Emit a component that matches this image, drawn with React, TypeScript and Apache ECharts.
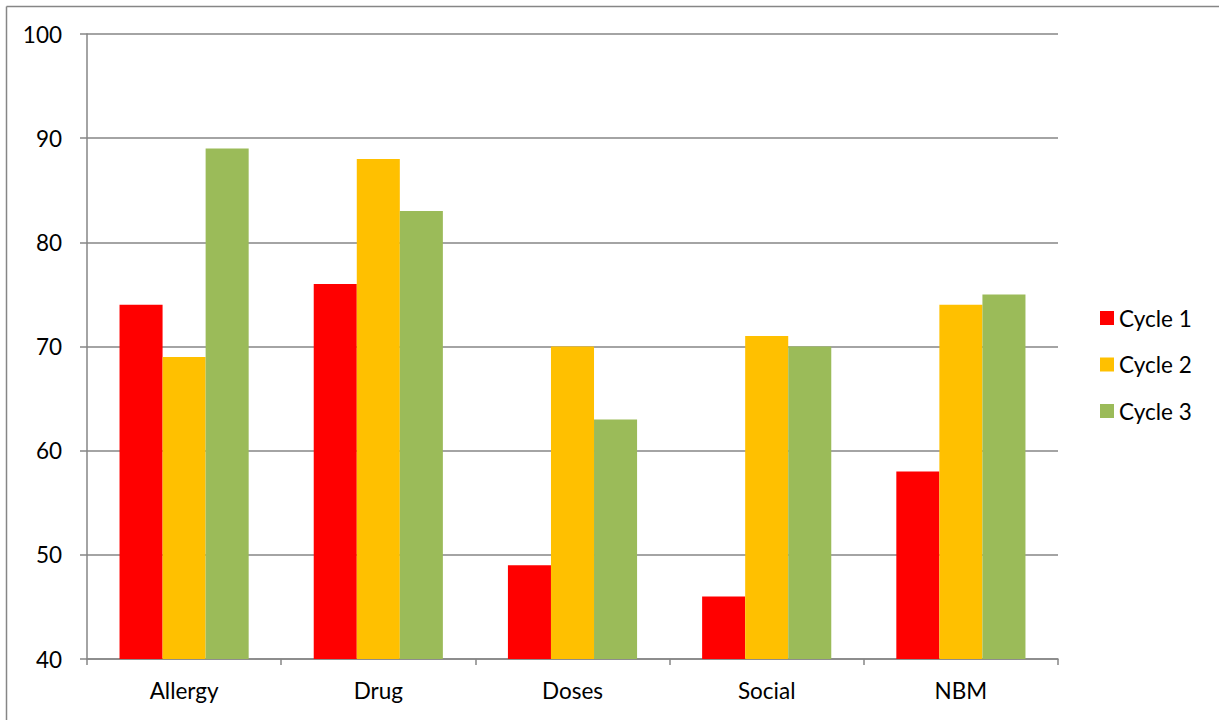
import React, { useEffect, useRef } from "react";
import * as echarts from "echarts";

const categories = ["Allergy", "Drug", "Doses", "Social", "NBM"];
const cycle1 = [74, 76, 49, 46, 58];
const cycle2 = [69, 88, 70, 71, 74];
const cycle3 = [89, 83, 63, 70, 75];
const seriesNames = ["Cycle 1", "Cycle 2", "Cycle 3"];
const seriesColors = ["#FF0000", "#FFC000", "#9BBB59"];

export default function App() {
  const ref = useRef<HTMLDivElement>(null);
  useEffect(() => {
    document.body.style.margin = "0";
    const chart = echarts.init(ref.current!, null, { renderer: "svg" });
    const font = "Lato, 'Open Sans', sans-serif";
    const data = [cycle1, cycle2, cycle3];
    chart.setOption({
      animation: false,
      textStyle: { fontFamily: font },
      grid: { left: 87, right: 161, top: 34, bottom: 61, containLabel: false },
      legend: {
        orient: "vertical",
        left: 1100,
        top: 306,
        itemWidth: 14,
        itemHeight: 14,
        itemGap: 22.5,
        icon: "rect",
        padding: 0,
        textStyle: { fontFamily: font, fontSize: 22.5, color: "#000", lineHeight: 24 },
        data: seriesNames,
      },
      xAxis: {
        type: "category",
        data: categories,
        axisLine: { lineStyle: { color: "#868686", width: 1.5 } },
        axisTick: { show: true, length: 6, inside: false, lineStyle: { color: "#868686", width: 1.5 } },
        axisLabel: { fontFamily: font, fontSize: 22.5, color: "#000", margin: 20 },
      },
      yAxis: {
        type: "value",
        min: 40,
        max: 100,
        interval: 10,
        axisLine: { show: true, lineStyle: { color: "#868686", width: 1.5 } },
        axisTick: { show: true, length: 7, lineStyle: { color: "#868686", width: 1.5 } },
        splitLine: { show: true, lineStyle: { color: "#868686", width: 1.5 } },
        axisLabel: { fontFamily: font, fontSize: 22.5, color: "#000", margin: 25 },
      },
      graphic: [
        { type: "line", shape: { x1: 6.5, y1: 6.5, x2: 1219, y2: 6.5 }, style: { stroke: "#868686", lineWidth: 1.5 } },
        { type: "line", shape: { x1: 6.5, y1: 6.5, x2: 6.5, y2: 720 }, style: { stroke: "#868686", lineWidth: 1.5 } },
      ],
      series: seriesNames.map((name, i) => ({
        name,
        type: "bar",
        data: data[i],
        barGap: "0%",
        barCategoryGap: "33.5%",
        itemStyle: { color: seriesColors[i] },
      })),
    });
    return () => chart.dispose();
  }, []);
  return <div ref={ref} style={{ width: 1219, height: 720 }} />;
}
